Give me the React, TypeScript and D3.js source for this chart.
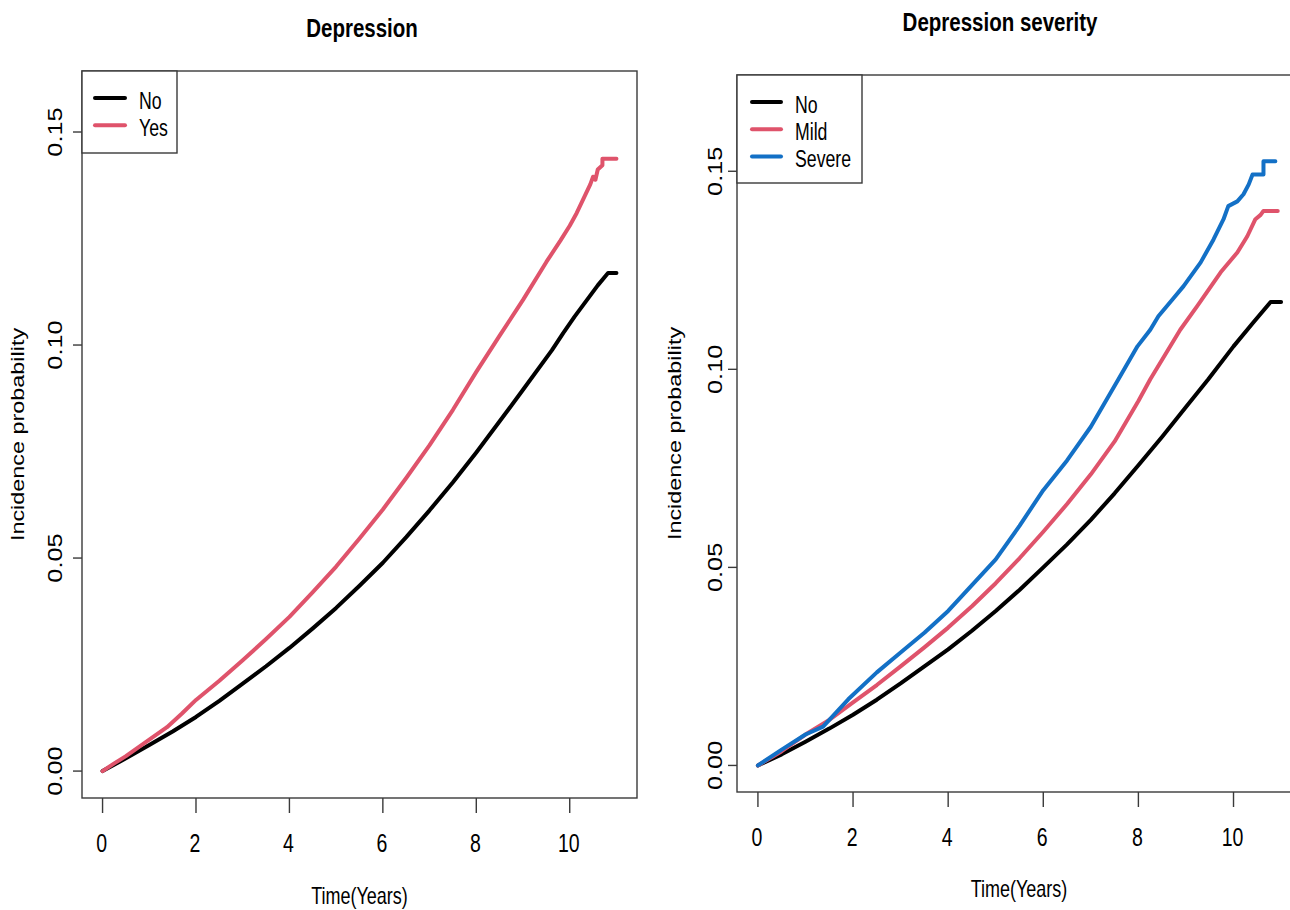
import React from "react";
import * as d3 from "d3";

// cumulative incidence: [years, probability]
const depNo: [number, number][] = [
  [0, 0], [0.5, 0.003], [1, 0.0061], [1.5, 0.0093], [2, 0.0127], [2.5, 0.0165],
  [3, 0.0205], [3.5, 0.0246], [4, 0.0289], [4.5, 0.0335], [5, 0.0383], [5.5, 0.0435],
  [6, 0.0489], [6.5, 0.0549], [7, 0.0612], [7.5, 0.0678], [8, 0.0748], [8.5, 0.0821],
  [9, 0.0895], [9.62, 0.0988], [9.86, 0.1028], [10.1, 0.1066], [10.37, 0.1106],
  [10.6, 0.114], [10.82, 0.1169], [11, 0.1169],
];
const depYes: [number, number][] = [
  [0, 0], [0.25, 0.0018], [0.5, 0.0035], [1, 0.0074], [1.38, 0.0103], [1.7, 0.0135],
  [2, 0.0167], [2.5, 0.0212], [3, 0.026], [3.5, 0.031], [4, 0.0362], [4.5, 0.042],
  [5, 0.048], [5.5, 0.0546], [6, 0.0614], [6.5, 0.0688], [7, 0.0765], [7.5, 0.0848],
  [8, 0.0937], [8.5, 0.1022], [9, 0.1106], [9.5, 0.1195], [9.8, 0.1245],
  [10, 0.128], [10.15, 0.131], [10.3, 0.1345], [10.44, 0.1377], [10.5, 0.1395],
  [10.55, 0.1388], [10.6, 0.1412], [10.7, 0.1422], [10.7, 0.1437], [11, 0.1437],
];
const sevNo: [number, number][] = [
  [0, 0], [0.5, 0.0028], [1, 0.006], [1.5, 0.0093], [2, 0.0128], [2.5, 0.0166],
  [3, 0.0207], [3.5, 0.025], [4, 0.0293], [4.5, 0.034], [5, 0.039], [5.5, 0.0443],
  [6, 0.05], [6.5, 0.0558], [7, 0.062], [7.5, 0.0687], [8, 0.0758], [8.5, 0.083],
  [9, 0.0905], [9.47, 0.0975], [10, 0.1058], [10.42, 0.1119], [10.78, 0.117], [11, 0.117],
];
const sevMild: [number, number][] = [
  [0, 0], [0.5, 0.0036], [1, 0.0078], [1.5, 0.0115], [2, 0.0159], [2.5, 0.0203],
  [3, 0.025], [3.5, 0.0298], [4, 0.0348], [4.5, 0.0402], [5, 0.046], [5.5, 0.0523],
  [6, 0.059], [6.5, 0.066], [7, 0.0735], [7.5, 0.0818], [8, 0.092], [8.25, 0.0975],
  [8.88, 0.11], [9.24, 0.116], [9.73, 0.1245], [10.08, 0.1295], [10.29, 0.1336],
  [10.46, 0.1379], [10.57, 0.139], [10.63, 0.14], [10.93, 0.14],
];
const sevSevere: [number, number][] = [
  [0, 0], [0.5, 0.004], [1, 0.0078], [1.37, 0.0098], [1.9, 0.0167], [2.5, 0.0235],
  [3, 0.0285], [3.5, 0.0335], [4, 0.039], [4.5, 0.0455], [5, 0.052], [5.5, 0.0605],
  [6, 0.0695], [6.5, 0.077], [7, 0.0855], [7.58, 0.0975], [7.98, 0.1058], [8.25, 0.11],
  [8.42, 0.1134], [8.72, 0.1177], [8.95, 0.121], [9.31, 0.127], [9.58, 0.1328],
  [9.79, 0.1379], [9.89, 0.1412], [10.08, 0.1424], [10.21, 0.1442], [10.32, 0.1467],
  [10.4, 0.1492], [10.63, 0.1492], [10.63, 0.1525], [10.88, 0.1525],
];

const xTicks = [0, 2, 4, 6, 8, 10];
const yTicks = [0, 0.05, 0.1, 0.15];
const depLabels = ["No", "Yes"];
const sevLabels = ["No", "Mild", "Severe"];

const BLACK = "#000000";
const RED = "#DF536B";
const BLUE = "#1370C6";
const FONT = "'Liberation Sans', Arial, Helvetica, sans-serif";
const STRETCH = 1.3; // the source figure is stretched vertically

type Series = { label: string; color: string; data: [number, number][] };

const SText = ({ x, y, size, rotate, bold, anchor = "middle", children }: any) => (
  <g transform={`translate(${x},${y}) scale(1,${STRETCH})`}>
    <text
      transform={rotate ? "rotate(-90)" : undefined}
      textAnchor={anchor}
      fontSize={size}
      fontWeight={bold ? "bold" : "normal"}
      fontFamily={FONT}
      fill="#000"
    >
      {children}
    </text>
  </g>
);

const Panel = ({ box, yMax, title, titleX, titleY, series, legend, lab }: any) => {
  const x = d3.scaleLinear().domain([-0.44, 11.44]).range([box.left, box.right]);
  const pad = yMax * 0.04;
  const y = d3.scaleLinear().domain([-pad, yMax + pad]).range([box.bottom, box.top]);
  const line = d3
    .line<[number, number]>()
    .x((d) => x(d[0]))
    .y((d) => y(d[1]));
  const cx = (box.left + box.right) / 2;
  const cy = (box.top + box.bottom) / 2;
  const axisCol = "#3a3a3a";

  return (
    <g>
      <SText x={titleX} y={titleY} size={20.5} bold>
        {title}
      </SText>
      {series.map((s: Series) => (
        <path
          key={s.label}
          d={line(s.data) || ""}
          fill="none"
          stroke={s.color}
          strokeWidth={4}
          strokeLinejoin="round"
          strokeLinecap="round"
        />
      ))}
      <rect
        x={box.left}
        y={box.top}
        width={box.right - box.left}
        height={box.bottom - box.top}
        fill="none"
        stroke={axisCol}
        strokeWidth={1.4}
      />
      {xTicks.map((t) => (
        <g key={"x" + t}>
          <line x1={x(t)} x2={x(t)} y1={box.bottom} y2={box.bottom + 15} stroke={axisCol} strokeWidth={1.4} />
          <SText x={x(t) - 1} y={lab.xTickY} size={19.5}>
            {t}
          </SText>
        </g>
      ))}
      {yTicks.map((t) => (
        <g key={"y" + t}>
          <line x1={box.left - 9} x2={box.left} y1={y(t)} y2={y(t)} stroke={axisCol} strokeWidth={1.4} />
          <SText x={lab.yTickX} y={y(t)} size={19.5} rotate>
            {d3.format(".2f")(t)}
          </SText>
        </g>
      ))}
      <SText x={lab.xLabX ?? cx} y={lab.xLabY} size={18}>
        Time(Years)
      </SText>
      <SText x={lab.yLabX} y={cy} size={18} rotate>
        Incidence probability
      </SText>
      <rect
        x={box.left}
        y={box.top}
        width={legend.w}
        height={legend.h}
        fill="#fff"
        stroke={axisCol}
        strokeWidth={1.4}
      />
      {series.map((s: Series, i: number) => (
        <g key={"lg" + s.label}>
          <line
            x1={legend.x1}
            x2={legend.x2}
            y1={legend.y0 + i * 27.3}
            y2={legend.y0 + i * 27.3}
            stroke={s.color}
            strokeWidth={4}
            strokeLinecap="round"
          />
          <SText x={legend.tx} y={legend.y0 + i * 27.3 + 10.5} size={17.7} anchor="start">
            {s.label}
          </SText>
        </g>
      ))}
    </g>
  );
};

export default function App() {
  const left: Series[] = [
    { label: depLabels[0], color: BLACK, data: depNo },
    { label: depLabels[1], color: RED, data: depYes },
  ];
  const right: Series[] = [
    { label: sevLabels[0], color: BLACK, data: sevNo },
    { label: sevLabels[1], color: RED, data: sevMild },
    { label: sevLabels[2], color: BLUE, data: sevSevere },
  ];
  return (
    <svg
      width={1290}
      height={910}
      style={{ position: "absolute", left: 0, top: 0, background: "#fff" }}
    >
      <rect width={1290} height={910} fill="#fff" />
      <Panel
        box={{ left: 82, right: 637, top: 71, bottom: 798 }}
        yMax={0.158}
        title="Depression"
        titleX={362}
        titleY={37}
        series={left}
        legend={{ w: 95, h: 82, x1: 95, x2: 125, y0: 98, tx: 139 }}
        lab={{ xTickY: 852, yTickX: 62, xLabY: 904, yLabX: 24 }}
      />
      <Panel
        box={{ left: 737, right: 1302, top: 75, bottom: 792 }}
        yMax={0.1676}
        title="Depression severity"
        titleX={1000}
        titleY={31}
        series={right}
        legend={{ w: 125, h: 108, x1: 752, x2: 781, y0: 102, tx: 795 }}
        lab={{ xTickY: 846, yTickX: 722, xLabX: 1019, xLabY: 897, yLabX: 681 }}
      />
    </svg>
  );
}
